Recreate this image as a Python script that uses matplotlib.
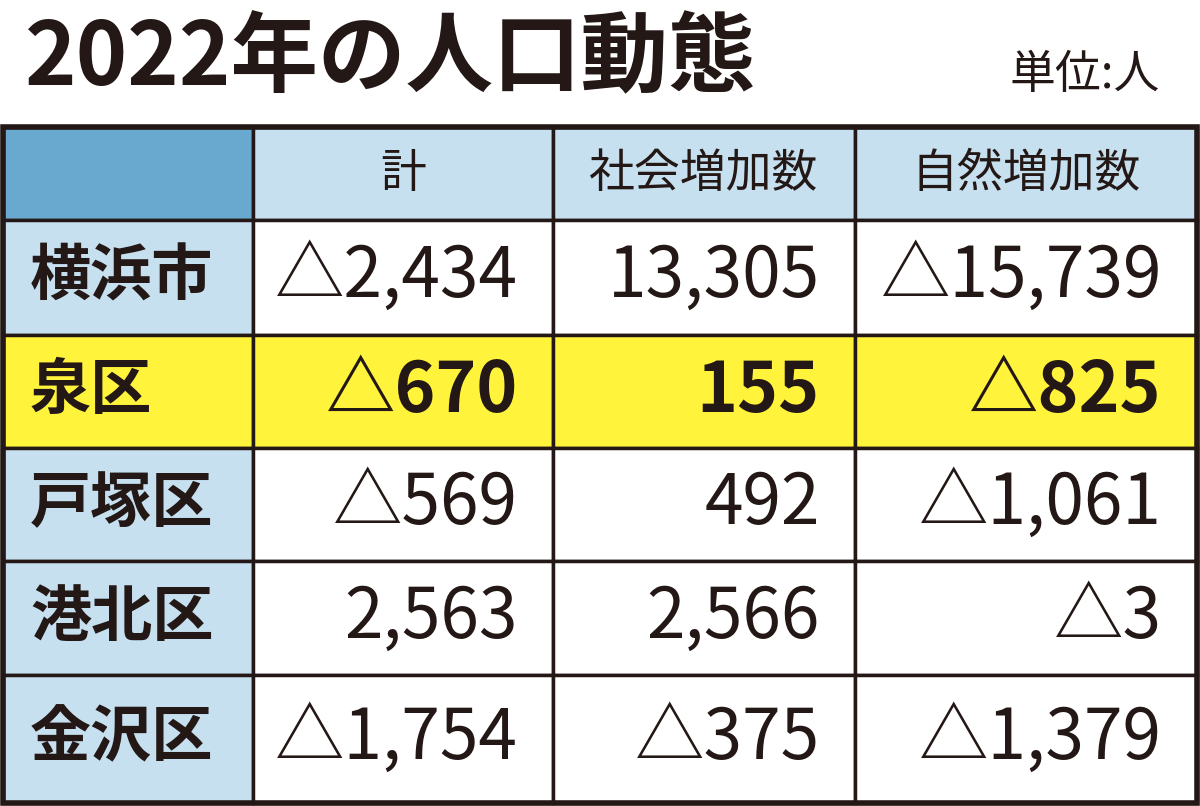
import matplotlib
matplotlib.use("Agg")
import matplotlib.pyplot as plt
from matplotlib.patches import Rectangle

plt.rcParams['font.family'] = ['Noto Sans CJK JP', 'DejaVu Sans']

title = "2022年の人口動態"
unit = "単位:人"
headers = ["計", "社会増加数", "自然増加数"]
regions = ["横浜市", "泉区", "戸塚区", "港北区", "金沢区"]
total = ["△2,434", "△670", "△569", "2,563", "△1,754"]
social = ["13,305", "155", "492", "2,566", "△375"]
natural = ["△15,739", "△825", "△1,061", "△3", "△1,379"]
highlight = "泉区"

fig = plt.figure(figsize=(12, 8.06), dpi=100)
ax = fig.add_axes([0, 0, 1, 1])
ax.set_xlim(0, 1200); ax.set_ylim(806, 0); ax.axis('off')

ink = '#231815'
ax.text(25, 60, title, fontsize=63, fontweight='bold', color=ink, va='center', ha='left')
ax.text(1160, 75, unit, fontsize=33, color=ink, va='center', ha='right')

xs = [3, 253, 553, 855, 1197]
ys = [127, 220, 335, 448, 561, 675, 803]
light = '#c6e0f0'; dark = '#6aa9cf'; yellow = '#fff33b'

for c in range(4):
    ax.add_patch(Rectangle((xs[c], ys[0]), xs[c+1]-xs[c], ys[1]-ys[0],
                           facecolor=dark if c == 0 else light, edgecolor=ink, lw=2.5))
    if c > 0:
        ax.text((xs[c]+xs[c+1])/2, (ys[0]+ys[1])/2, headers[c-1], fontsize=33,
                color=ink, ha='center', va='center')

cols = [total, social, natural]
for r, name in enumerate(regions):
    y0, y1 = ys[r+1], ys[r+2]
    hl = name == highlight
    for c in range(4):
        fc = yellow if hl else (light if c == 0 else 'white')
        ax.add_patch(Rectangle((xs[c], y0), xs[c+1]-xs[c], y1-y0, facecolor=fc, edgecolor=ink, lw=2.5))
    yc = (y0+y1)/2
    ax.text(30, yc, name, fontsize=44, fontweight='bold', color=ink, ha='left', va='center')
    for c in range(3):
        ax.text(xs[c+2]-35, yc, cols[c][r], fontsize=50, color=ink, ha='right', va='center',
                fontweight='bold' if hl else 'normal')

ax.add_patch(Rectangle((xs[0], ys[0]), xs[-1]-xs[0], ys[-1]-ys[0], fill=False, edgecolor=ink, lw=4))
fig.savefig('out.png', dpi=100)
